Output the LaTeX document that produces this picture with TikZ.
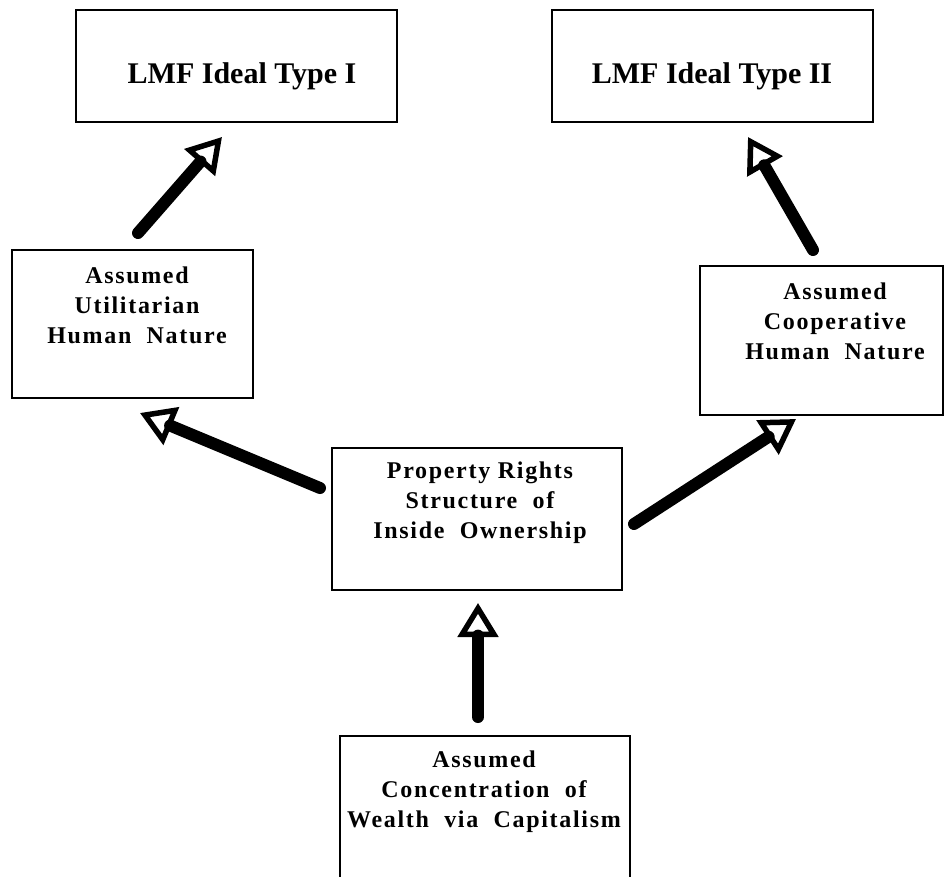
\documentclass[tikz,border=0pt]{standalone}
\usepackage{fontspec}
\setmainfont{Liberation Serif}
\newfontfamily\spacedfont[LetterSpace=7]{Liberation Serif}
\usetikzlibrary{arrows.meta}
\tikzset{
  boxframe/.style={draw=black, line width=2pt, rectangle, inner sep=0pt, fill=none},
  boxtext/.style={inner sep=0pt, align=center, font=\spacedfont\bfseries\fontsize{24}{30}\selectfont},
  titletext/.style={inner sep=0pt, align=center, font=\bfseries\fontsize{30}{36}\selectfont},
  bigarrow/.style={line width=12pt, line cap=round,
    -{Triangle[open, length=34pt, width=40pt, line width=5.5pt]}},
}
\begin{document}
\begin{tikzpicture}[x=1pt, y=-1pt]
\clip (0,0) rectangle (945,876);
\fill[white] (0,0) rectangle (945,876);
% frames
\node[boxframe, minimum width=321pt, minimum height=112pt] (b1) at (236.5,66) {};
\node[boxframe, minimum width=321pt, minimum height=112pt] (b2) at (712,66) {};
\node[boxframe, minimum width=241pt, minimum height=148pt] (b3) at (132.5,324) {};
\node[boxframe, minimum width=243pt, minimum height=149pt] (b4) at (821.5,340.5) {};
\node[boxframe, minimum width=290pt, minimum height=142pt] (b5) at (477,519) {};
\node[boxframe, minimum width=290pt, minimum height=160pt] (b6) at (485,816) {};
% texts
\node[titletext] (t1) at (242,75.8) {\strut LMF Ideal Type I};
\node[titletext] (t2) at (712,75.8) {\strut LMF Ideal Type II};
\node[boxtext] (t3) at (137,307) {\strut Assumed\\\strut Utilitarian\\\strut Human\ \ Nature};
\node[boxtext] (t4) at (835,323) {\strut Assumed\\\strut Cooperative\\\strut Human\ \ Nature};
\node[boxtext] (t5) at (480,502) {\strut Property Rights\\\strut Structure\ \ of\\\strut Inside\ \ Ownership};
\node[boxtext] (t6) at (484,791) {\strut Assumed\\\strut Concentration\ \ of\\\strut Wealth\ \ via\ \ Capitalism};
% arrow ends
\coordinate (a1s) at (138,233);
\coordinate (a1e) at (222,137);
\coordinate (a2s) at (813,250);
\coordinate (a2e) at (748,137);
\coordinate (a3s) at (320,488);
\coordinate (a3e) at (140,413);
\coordinate (a4s) at (634,524);
\coordinate (a4e) at (796,419);
\coordinate (a5s) at (478,717);
\coordinate (a5e) at (478,603);
\draw[bigarrow] (a1s) -- (a1e);
\draw[bigarrow] (a2s) -- (a2e);
\draw[bigarrow] (a3s) -- (a3e);
\draw[bigarrow] (a4s) -- (a4e);
\draw[bigarrow] (a5s) -- (a5e);
\end{tikzpicture}
\end{document}
